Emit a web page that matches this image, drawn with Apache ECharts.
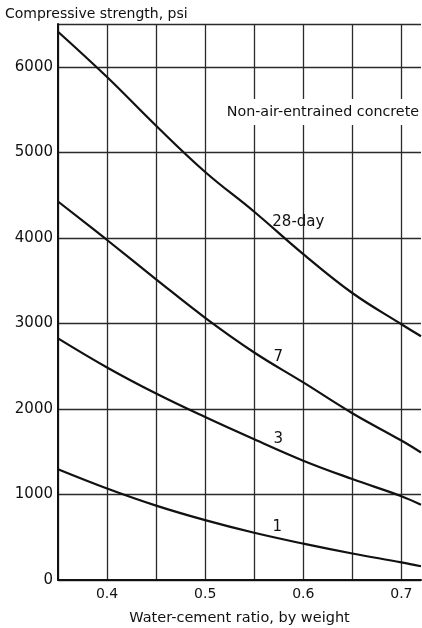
<!DOCTYPE html>
<html>
<head>
<meta charset="utf-8">
<script src="https://cdn.jsdelivr.net/npm/echarts@6/dist/echarts.min.js"></script>
<style>
  html, body { margin: 0; padding: 0; background: #fff; }
  #chart { width: 422px; height: 628px; }
</style>
</head>
<body>
<div id="chart"></div>
<script>
// water-cement ratio
const ratio = [0.35, 0.40, 0.45, 0.50, 0.55, 0.60, 0.65, 0.70, 0.72];
// compressive strength, psi
const day28 = [6410, 5880, 5310, 4770, 4305, 3810, 3355, 2990, 2850];
const day7  = [4425, 3975, 3515, 3065, 2660, 2310, 1950, 1630, 1490];
const day3  = [2825, 2485, 2180, 1905, 1645, 1395, 1180, 980, 880];
const day1  = [1295, 1070, 870, 700, 552, 425, 310, 207, 161];
const curveNames = ['28-day', '7', '3', '1'];
const note = 'Non-air-entrained concrete';
const xTickLabels = ['0.4', '0.5', '0.6', '0.7'];
const yTickLabels = ['0', '1000', '2000', '3000', '4000', '5000', '6000'];

const font = 'DejaVu Sans';
const ink = '#111';

function pairs(ys) {
  return ratio.map((x, i) => [x, ys[i]]);
}

// where each curve's name sits, in data coordinates
const labelAt = [[0.595, 4185], [0.5745, 2607], [0.5745, 1648], [0.5735, 620]];

function textMark(coord, text, size, extra) {
  return {
    coord: coord,
    value: 0,
    symbol: 'circle',
    symbolSize: 1,
    itemStyle: { color: 'rgba(0,0,0,0)' },
    label: Object.assign({
      show: true,
      position: 'inside',
      formatter: text,
      color: ink,
      fontFamily: font,
      fontSize: size
    }, extra || {})
  };
}

function curve(name, ys, i) {
  const marks = [textMark(labelAt[i], name, 15)];
  if (i === 0) {
    marks.push(textMark([0.62, 5471], note, 14.3, {
      backgroundColor: '#fff',
      padding: [6, 2, 6, 2]
    }));
  }
  return {
    name: name,
    type: 'line',
    data: pairs(ys),
    smooth: 0.4,
    showSymbol: false,
    lineStyle: { color: ink, width: 2.2 },
    z: 3,
    markPoint: { data: marks, z: 5 }
  };
}

const chart = echarts.init(document.getElementById('chart'));
chart.setOption({
  animation: false,
  backgroundColor: '#fff',
  title: {
    text: 'Compressive strength, psi',
    left: 0,
    top: 2,
    textStyle: { color: ink, fontFamily: font, fontSize: 14, fontWeight: 'normal' }
  },
  grid: { left: 58, right: 1, top: 24, bottom: 48, outerBoundsMode: 'none' },
  xAxis: {
    type: 'value',
    min: 0.35,
    max: 0.72,
    interval: 0.05,
    name: 'Water-cement ratio, by weight',
    nameLocation: 'middle',
    nameGap: 31,
    nameTextStyle: { color: ink, fontFamily: font, fontSize: 14.5 },
    axisLine: { show: true, lineStyle: { color: ink, width: 2 } },
    axisTick: { show: false },
    axisLabel: {
      color: ink,
      fontFamily: font,
      fontSize: 14,
      margin: 7,
      formatter: v => {
        const s = String(Math.round(v * 100) / 100);
        return xTickLabels.includes(s) ? s : '';
      }
    },
    splitLine: { show: true, showMaxLine: false, lineStyle: { color: '#2a2a2a', width: 1.3 } }
  },
  yAxis: {
    type: 'value',
    min: 0,
    max: 6500,
    interval: 1000,
    axisLine: { show: true, lineStyle: { color: ink, width: 2 } },
    axisTick: { show: false },
    axisLabel: {
      color: ink,
      fontFamily: font,
      fontSize: 15,
      margin: 5,
      formatter: v => (yTickLabels.includes(String(v)) ? String(v) : '')
    },
    splitLine: { show: true, lineStyle: { color: '#2a2a2a', width: 1.3 } }
  },
  series: [
    curve(curveNames[0], day28, 0),
    curve(curveNames[1], day7, 1),
    curve(curveNames[2], day3, 2),
    curve(curveNames[3], day1, 3)
  ]
});
</script>
</body>
</html>
